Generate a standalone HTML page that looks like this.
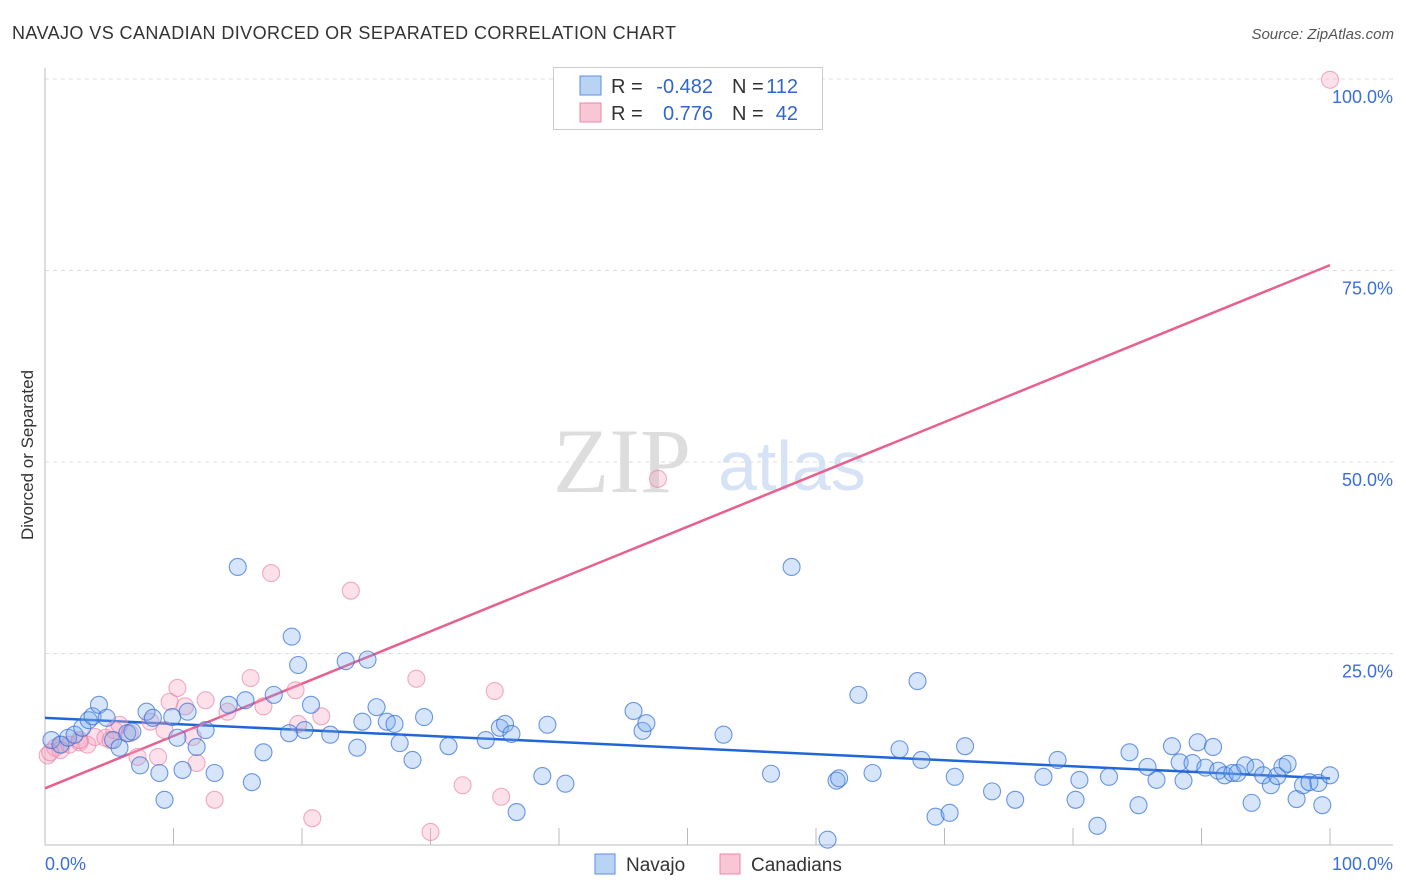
<!DOCTYPE html>
<html><head><meta charset="utf-8"><style>
body{margin:0;background:#fff;font-family:"Liberation Sans",sans-serif}
svg{display:block}
</style></head><body>
<svg id="chart" width="1406" height="892">
<text x="12" y="39" font-size="18" fill="#333" textLength="664">NAVAJO VS CANADIAN DIVORCED OR SEPARATED CORRELATION CHART</text>
<text x="1394" y="39" font-size="15" fill="#555" text-anchor="end" font-style="italic">Source: ZipAtlas.com</text>
<text transform="translate(33,455) rotate(-90)" font-size="17" fill="#333" text-anchor="middle">Divorced or Separated</text>
<g>
<text x="553" y="492" font-size="92" font-family="Liberation Serif,serif" fill="#ddd">ZIP</text>
<text x="718" y="490" font-size="70" fill="#d6e2f5">atlas</text>
</g>
<g id="grid"></g><g id="axes"></g>
<g id="lines"></g><g id="pts"></g>
<g>
<rect x="553.5" y="67.5" width="269" height="62" fill="#fff" stroke="#ccc"/>
<rect x="580" y="76" width="21" height="19" fill="#b9d3f5" stroke="#5b8fe0"/>
<rect x="580" y="103" width="21" height="19" fill="#f9c6d6" stroke="#e88aaa"/>
<text x="611" y="93" font-size="20" fill="#333">R =</text>
<text x="713" y="93" font-size="20" fill="#3366cc" text-anchor="end">-0.482</text>
<text x="732" y="93" font-size="20" fill="#333">N =</text>
<text x="798" y="93" font-size="20" fill="#3366cc" text-anchor="end">112</text>
<text x="611" y="120" font-size="20" fill="#333">R =</text>
<text x="713" y="120" font-size="20" fill="#3366cc" text-anchor="end">0.776</text>
<text x="732" y="120" font-size="20" fill="#333">N =</text>
<text x="798" y="120" font-size="20" fill="#3366cc" text-anchor="end">42</text>
</g>
<g>
<rect x="595" y="854" width="20" height="20" fill="#b9d3f5" stroke="#5b8fe0"/>
<text x="626" y="871" font-size="19" fill="#333">Navajo</text>
<rect x="720" y="854" width="20" height="20" fill="#f9c6d6" stroke="#e88aaa"/>
<text x="751" y="871" font-size="19" fill="#333">Canadians</text>
</g>
</svg>
<script>
const yTicks=[100,75,50,25];
const yTickLabels=["100.0%","75.0%","50.0%","25.0%"];
const navajoX=[0.5,1.2,1.8,2.3,2.9,3.4,3.7,4.2,4.8,5.3,5.8,6.4,6.8,7.4,7.9,8.4,8.9,9.3,9.9,10.3,10.7,11.1,11.8,12.5,13.2,14.3,15.0,15.6,16.1,17.0,17.8,19.0,19.2,19.7,20.2,20.7,22.2,23.4,24.3,24.7,25.1,25.8,26.6,27.2,27.6,28.6,29.5,31.4,34.3,35.4,35.8,36.3,36.7,38.7,39.1,40.5,45.8,46.5,46.8,52.8,56.5,58.1,61.6,61.8,64.4,63.3,66.5,67.9,68.2,69.3,70.4,70.8,71.6,73.7,75.5,77.7,78.8,80.2,80.5,81.9,82.8,84.4,85.1,85.8,86.5,87.7,88.3,88.6,89.3,89.7,90.3,90.9,91.3,91.8,92.4,92.8,93.4,93.9,94.2,94.8,95.4,95.9,96.3,96.7,97.4,97.9,98.4,99.1,99.4,100,60.9];
const navajoY=[13.7,13.1,14.0,14.4,15.3,16.3,16.8,18.3,16.6,13.7,12.7,14.6,14.8,10.4,17.4,16.6,9.4,5.9,16.7,14.0,9.8,17.4,12.8,15.0,9.4,18.3,36.3,18.9,8.2,12.1,19.6,14.6,27.2,23.5,15.0,18.3,14.4,24.0,12.7,16.1,24.2,18.0,16.1,15.8,13.3,11.1,16.7,12.9,13.7,15.3,15.8,14.5,4.3,9.0,15.7,8.0,17.5,14.9,15.9,14.4,9.3,36.3,8.4,8.7,9.4,19.6,12.5,21.4,11.1,3.7,4.2,8.9,12.9,7.0,5.9,8.9,11.1,5.9,8.5,2.5,8.9,12.1,5.2,10.2,8.5,12.9,10.8,8.4,10.7,13.4,10.1,12.8,9.7,9.1,9.4,9.4,10.4,5.5,10.1,9.1,7.8,9.0,10.2,10.6,6.0,7.8,8.2,8.1,5.2,9.1,0.7];
const canX=[0.2,0.8,1.3,1.9,2.7,3.3,3.9,4.7,5.4,5.8,6.6,7.2,8.2,8.8,9.3,9.7,10.3,10.9,11.5,11.8,12.5,13.2,14.2,16.0,17.0,17.6,19.5,19.7,20.8,21.5,23.8,28.9,30.0,32.5,35.0,35.5,47.7,100,2.7,5.1,1.2,0.4];
const canY=[11.7,12.7,13.1,13.1,13.4,13.1,14.1,14.0,15.0,15.7,14.6,11.5,16.1,11.5,15.0,18.7,20.5,18.1,14.1,10.7,18.9,5.9,17.4,21.8,18.1,35.5,20.2,15.8,3.5,16.8,33.2,21.7,1.7,7.8,20.1,6.3,47.8,99.9,13.7,13.7,12.4,12.1];
const navajoTrend=[16.6,8.7];
const canTrend=[7.4,75.7];
const NS="http://www.w3.org/2000/svg";
const X0=45,X1=1330,Y0=845,Y1=79;
const xs=v=>X0+(X1-X0)*v/100, ys=v=>Y0-(Y0-Y1)*v/100;
function mk(t,a,p){const e=document.createElementNS(NS,t);for(const k in a)e.setAttribute(k,a[k]);p.appendChild(e);return e;}
const grid=document.getElementById('grid'),axes=document.getElementById('axes');
yTicks.forEach((t,i)=>{
 const l=mk('line',{x1:X0,x2:1393,y1:ys(t),y2:ys(t),stroke:'#ddd','stroke-dasharray':'4,4'},grid);
 
 
 const tx=mk('text',{x:1393,y:ys(t)+24,'font-size':18,fill:'#3a6fd8','text-anchor':'end'},grid);
 tx.textContent=yTickLabels[i];
 
 
});
mk('line',{x1:X0,x2:X0,y1:68,y2:Y0,stroke:'#bbb'},axes);
mk('line',{x1:X0,x2:1393,y1:Y0,y2:Y0,stroke:'#bbb'},axes);
for(let i=1;i<=10;i++){const t=mk('line',{x1:xs(i*10),x2:xs(i*10),y1:Y0,y2:828,stroke:'#bbb'},axes);
 
 }
const xl=mk('text',{x:45,y:870,'font-size':18,fill:'#3a6fd8'},axes);xl.textContent='0.0%';


const xr=mk('text',{x:1393,y:870,'font-size':18,fill:'#3a6fd8','text-anchor':'end'},axes);xr.textContent='100.0%';


const pts=document.getElementById('pts');
function dots(X,Y,fill,stroke,name){X.forEach((x,i)=>{
 const c=mk('circle',{cx:xs(x),cy:ys(Y[i]),r:8.5,fill:fill,stroke:stroke,'stroke-width':1.1},pts);
 
 });}
dots(canX,canY,'rgba(246,170,195,0.35)','rgba(232,120,160,0.6)','canadians-point');
dots(navajoX,navajoY,'rgba(120,170,235,0.3)','rgba(50,110,215,0.7)','navajo-point');
const lines=document.getElementById('lines');
const bl=mk('line',{x1:xs(0),y1:ys(navajoTrend[0]),x2:xs(100),y2:ys(navajoTrend[1]),stroke:'#2166d6','stroke-width':2.5},lines);


const pl=mk('line',{x1:xs(0),y1:ys(canTrend[0]),x2:xs(100),y2:ys(canTrend[1]),stroke:'#e8608f','stroke-width':2.5},lines);


</script>
</body></html>
